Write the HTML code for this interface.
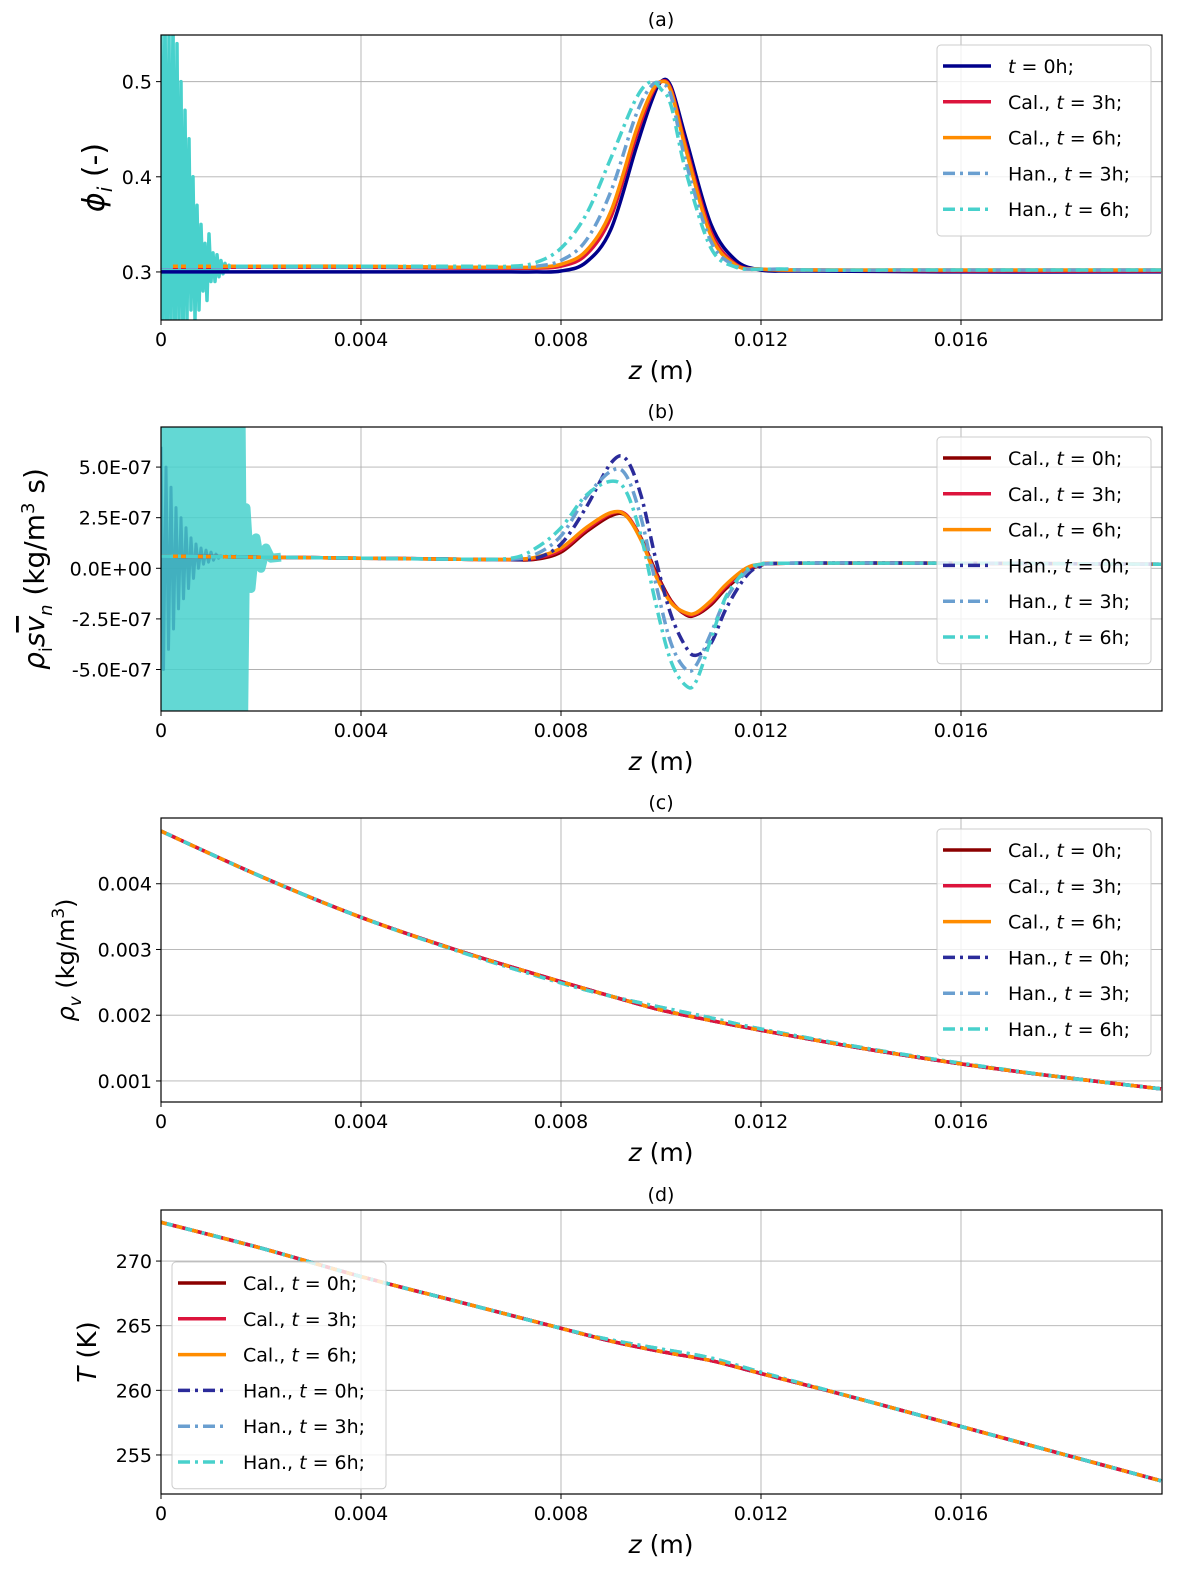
<!DOCTYPE html>
<html><head><meta charset="utf-8">
<style>
html,body{margin:0;padding:0;background:#fff;overflow:hidden;width:1188px;height:1587px;}
svg{display:block;}
svg text{font-family:"DejaVu Sans","Liberation Sans",sans-serif;fill:#000;}
</style></head>
<body>
<svg id="fig" width="1188" height="1587" viewBox="0 0 1188 1587" xmlns="http://www.w3.org/2000/svg"></svg>
<script>
// ---------- shared x data ----------
const xTicks = [0, 0.004, 0.008, 0.012, 0.016];
const xTickLabels = ["0", "0.004", "0.008", "0.012", "0.016"];

// ---------- panel (a) phi ----------
const zA = [0,0.001,0.002,0.004,0.006,0.007,0.0075,0.008,0.0085,0.009,0.0095,0.0098,0.010,0.0102,0.0105,0.011,0.0115,0.012,0.0125,0.013,0.016,0.02];
const phiT0   = [0.300,0.300,0.300,0.300,0.300,0.300,0.300,0.301,0.310,0.345,0.430,0.478,0.500,0.495,0.440,0.350,0.312,0.302,0.301,0.301,0.300,0.300];
const phiCal3 = [0.305,0.305,0.305,0.305,0.304,0.304,0.304,0.306,0.318,0.358,0.442,0.485,0.500,0.492,0.432,0.342,0.308,0.303,0.302,0.302,0.301,0.301];
const phiCal6 = [0.306,0.306,0.306,0.306,0.305,0.305,0.305,0.308,0.322,0.364,0.448,0.488,0.500,0.490,0.428,0.338,0.307,0.303,0.302,0.302,0.302,0.302];
const phiHan3 = [0.305,0.305,0.305,0.305,0.305,0.305,0.306,0.312,0.333,0.385,0.465,0.495,0.498,0.485,0.415,0.332,0.306,0.303,0.303,0.302,0.302,0.302];
const phiHan6 = [0.306,0.306,0.306,0.306,0.306,0.306,0.310,0.325,0.360,0.420,0.482,0.500,0.492,0.475,0.405,0.325,0.305,0.303,0.303,0.302,0.302,0.302];
const phiNoiseZ = [0,0.00004,0.00008,0.00012,0.00016,0.0002,0.00024,0.00028,0.00032,0.00036,0.0004,0.00044,0.00048,0.00052,0.00056,0.0006,0.00064,0.00068,0.00072,0.00076,0.0008,0.00084,0.00088,0.00092,0.00096,0.001,0.00104,0.00108,0.00112,0.00116,0.0012,0.00124,0.00128,0.00132,0.00136,0.0014,0.0015,0.0016];
const phiNoiseV = [0.56,0.22,0.58,0.20,0.55,0.23,0.57,0.21,0.54,0.24,0.50,0.22,0.47,0.25,0.44,0.26,0.40,0.25,0.37,0.26,0.35,0.28,0.33,0.27,0.34,0.29,0.32,0.29,0.318,0.295,0.312,0.298,0.309,0.301,0.307,0.305,0.306,0.306];

// ---------- panel (b) flux ----------
const zB = [0,0.002,0.004,0.006,0.007,0.0075,0.008,0.0085,0.009,0.0093,0.0096,0.0099,0.0102,0.0105,0.0107,0.011,0.0113,0.0117,0.012,0.0125,0.016,0.02];
const fCal0 = [6e-8,5.5e-8,5e-8,4.5e-8,4.2e-8,4.5e-8,8e-8,1.8e-7,2.6e-7,2.6e-7,1.5e-7,-2e-8,-1.6e-7,-2.3e-7,-2.3e-7,-1.8e-7,-1e-7,-2e-8,1.5e-8,2.5e-8,2.5e-8,2e-8];
const fCal3 = [6e-8,5.5e-8,5e-8,4.5e-8,4.3e-8,5e-8,9e-8,1.9e-7,2.7e-7,2.65e-7,1.45e-7,-3e-8,-1.65e-7,-2.25e-7,-2.25e-7,-1.7e-7,-9e-8,-1e-8,1.8e-8,2.5e-8,2.5e-8,2e-8];
const fCal6 = [6e-8,5.5e-8,5e-8,4.5e-8,4.4e-8,5.5e-8,1e-7,2e-7,2.75e-7,2.6e-7,1.4e-7,-4e-8,-1.7e-7,-2.2e-7,-2.2e-7,-1.6e-7,-8e-8,0,2e-8,2.5e-8,2.5e-8,2e-8];
const fHan0 = [6e-8,5.5e-8,5e-8,4.5e-8,4.3e-8,5e-8,1.2e-7,3e-7,5.2e-7,5.4e-7,3.6e-7,4e-8,-2.3e-7,-3.9e-7,-4.3e-7,-3.7e-7,-2e-7,-4e-8,1e-8,2.5e-8,2.5e-8,2e-8];
const fHan3 = [6e-8,5.5e-8,5e-8,4.5e-8,4.5e-8,7e-8,1.6e-7,3.5e-7,4.8e-7,4.6e-7,2.5e-7,-8e-8,-3.7e-7,-5e-7,-4.8e-7,-3.2e-7,-1.5e-7,-2e-8,1.5e-8,2.5e-8,2.5e-8,2e-8];
const fHan6 = [6e-8,5.5e-8,5e-8,4.5e-8,5e-8,1e-7,2e-7,3.6e-7,4.3e-7,3.8e-7,1.6e-7,-1.8e-7,-4.6e-7,-5.8e-7,-5.6e-7,-3.5e-7,-1.4e-7,-1e-8,2e-8,2.5e-8,2.5e-8,2e-8];
const fNoiseZ = [0,0.00005,0.0001,0.00015,0.0002,0.00025,0.0003,0.00035,0.0004,0.00045,0.0005,0.00055,0.0006,0.00065,0.0007,0.00075,0.0008,0.00085,0.0009,0.00095,0.001,0.00105,0.0011,0.00115,0.0012,0.00125,0.0013,0.00135,0.0014,0.00145,0.0015,0.00155,0.0016,0.00165,0.0017,0.0018,0.0019,0.002,0.0021,0.0022,0.0024];
const fNoise6 = [8e-7,-8e-7,8e-7,-8e-7,8e-7,-8e-7,8e-7,-8e-7,8e-7,-8e-7,8e-7,-8e-7,8e-7,-8e-7,8e-7,-8e-7,8e-7,-8e-7,8e-7,-8e-7,8e-7,-8e-7,8e-7,-8e-7,8e-7,-8e-7,8e-7,-8e-7,8e-7,-8e-7,8e-7,-8e-7,8e-7,-8e-7,3e-7,-1e-7,1.5e-7,0,1e-7,5e-8,5.5e-8];
const fNoise0 = [6e-7,-5e-7,5e-7,-4e-7,4e-7,-3e-7,3e-7,-2e-7,2.5e-7,-1.5e-7,2e-7,-1e-7,1.5e-7,-5e-8,1.2e-7,0,1e-7,2e-8,9e-8,3e-8,8e-8,4e-8,7e-8,5e-8,6e-8,5.5e-8,6e-8,5.5e-8,6e-8,5.5e-8,6e-8,5.5e-8,5.5e-8,5.5e-8,5.5e-8,5.5e-8,5.5e-8,5.5e-8,5.5e-8,5.5e-8,5.5e-8];

// ---------- panel (c) rho_v ----------
const zC = [0,0.002,0.004,0.006,0.008,0.009,0.010,0.011,0.012,0.014,0.016,0.018,0.02];
const rvCal = [0.0048,0.00411,0.00349,0.00297,0.00251,0.00229,0.00208,0.00192,0.00177,0.00150,0.00126,0.00106,0.00088];
const rvHan = [0.0048,0.00411,0.00349,0.00296,0.00249,0.00229,0.00212,0.00196,0.00179,0.00151,0.00127,0.00106,0.00088];

// ---------- panel (d) T ----------
const zD = [0,0.002,0.004,0.006,0.008,0.009,0.010,0.011,0.012,0.014,0.016,0.018,0.02];
const tCal = [273.0,271.0,268.8,266.8,264.8,263.8,263.0,262.3,261.3,259.3,257.2,255.1,253.0];
const tHan = [273.0,271.0,268.8,266.8,264.8,263.9,263.2,262.5,261.4,259.3,257.2,255.1,253.0];

// ---------- rendering ----------
const NS = "http://www.w3.org/2000/svg";
const svg = document.getElementById("fig");
function mk(tag, attrs, parent){const e=document.createElementNS(NS,tag);for(const k in attrs)e.setAttribute(k,attrs[k]);(parent||svg).appendChild(e);return e;}
const X0=161,X1=1162,XMAX=0.02002;
function sx(v){return X0+(v/XMAX)*(X1-X0);}
function pathFor(xs,ys,sy){
  const p=xs.map((x,i)=>[sx(x),sy(ys[i])]);
  let d="M"+p[0][0].toFixed(1)+","+p[0][1].toFixed(1);
  for(let i=0;i<p.length-1;i++){
    const p0=p[i-1]||p[i],p1=p[i],p2=p[i+1],p3=p[i+2]||p2;
    const c1=[p1[0]+(p2[0]-p0[0])/6,p1[1]+(p2[1]-p0[1])/6];
    const c2=[p2[0]-(p3[0]-p1[0])/6,p2[1]-(p3[1]-p1[1])/6];
    d+=" C"+c1[0].toFixed(1)+","+c1[1].toFixed(1)+" "+c2[0].toFixed(1)+","+c2[1].toFixed(1)+" "+p2[0].toFixed(1)+","+p2[1].toFixed(1);
  }
  return d;
}
function polyFor(xs,ys,sy){return xs.map((x,i)=>(i?"L":"M")+sx(x).toFixed(1)+","+sy(ys[i]).toFixed(1)).join(" ");}

function panel(o){
  const g=mk("g",{});
  
  
  const sy=v=>o.top+(o.ymax-v)/(o.ymax-o.ymin)*(o.bot-o.top);
  const cid="clip"+o.id;
  const cp=mk("clipPath",{id:cid},g);mk("rect",{x:X0,y:o.top,width:X1-X0,height:o.bot-o.top},cp);
  xTicks.forEach((t,i)=>{
    const gl=mk("line",{x1:sx(t),x2:sx(t),y1:o.top,y2:o.bot,stroke:"#b0b0b0","stroke-width":0.9},g);
    
    
    mk("line",{x1:sx(t),x2:sx(t),y1:o.bot,y2:o.bot+5,stroke:"#000","stroke-width":1},g);
    const tl=mk("text",{x:sx(t),y:o.bot+26,"font-size":19,"text-anchor":"middle"},g);tl.textContent=xTickLabels[i];
    
    
  });
  o.yTicks.forEach((t,i)=>{
    const gl=mk("line",{x1:X0,x2:X1,y1:sy(t),y2:sy(t),stroke:"#b0b0b0","stroke-width":0.9},g);
    
    
    mk("line",{x1:X0-5,x2:X0,y1:sy(t),y2:sy(t),stroke:"#000","stroke-width":1},g);
    const tl=mk("text",{x:X0-9,y:sy(t)+7,"font-size":19,"text-anchor":"end"},g);tl.textContent=o.yTickLabels[i];
    
    
  });
  const sg=mk("g",{"clip-path":"url(#"+cid+")"},g);
  o.series.forEach(s=>{
    const p=mk("path",{d:s.poly?polyFor(s.x,s.y,sy):pathFor(s.x,s.y,sy),fill:"none",stroke:s.c,"stroke-width":s.w||3.5,"stroke-dasharray":s.dash||"none","stroke-linejoin":"round",opacity:s.op||1},sg);
    
    
  });
  mk("rect",{x:X0,y:o.top,width:X1-X0,height:o.bot-o.top,fill:"none",stroke:"#000","stroke-width":1.2},g);
  const tt=mk("text",{x:661,y:o.top-9,"font-size":19,"text-anchor":"middle"},g);tt.textContent=o.title;
  
  
  const xl=mk("text",{x:661,y:o.bot+59,"font-size":25,"text-anchor":"middle"},g);
  xl.innerHTML='<tspan font-style="italic">z</tspan> (m)';
  
  
  const yl=mk("text",{x:0,y:0,"font-size":o.ylSize||25,"text-anchor":"middle",transform:"translate("+o.ylX+","+((o.top+o.bot)/2)+") rotate(-90)"},g);
  yl.innerHTML=o.ylabel;
  
  
  const L=o.legend;
  const lb=mk("rect",{x:L.x,y:L.y,width:L.w,height:L.entries.length*35.8+12,fill:"#fff","fill-opacity":0.8,stroke:"#ccc",rx:4},g);
  
  
  L.entries.forEach((e,i)=>{
    const yy=L.y+21+i*35.8;
    const ll=mk("line",{x1:L.x+6,x2:L.x+54,y1:yy,y2:yy,stroke:e.c,"stroke-width":3.5,"stroke-dasharray":e.dash||"none"},g);
    
    
    const lt=mk("text",{x:L.x+71,y:yy+7,"font-size":19},g);
    lt.innerHTML=e.t;
    
    
  });
}
const NAVY="#00008b",DR="#8b0000",CR="#dc143c",OR="#ff8c00",H0="#2b2b9a",H3="#6a9fd0",H6="#48d1cc";
const DD="12,5,3,5";
const T=(a,h)=>a+', <tspan font-style="italic">t</tspan> = '+h+'h;';

panel({id:"a",name:"panel-a-phi",title:"(a)",top:35,bot:320,ymin:0.2495,ymax:0.549,
  yTicks:[0.3,0.4,0.5],yTickLabels:["0.3","0.4","0.5"],ylX:104,ylSize:30,
  ylabel:'<tspan font-style="italic">ϕ</tspan><tspan font-style="italic" font-size="20" dy="8">i</tspan><tspan dy="-8"> (-)</tspan>',
  series:[
    {name:"han-6h-noise",x:phiNoiseZ,y:phiNoiseV,c:H6,poly:true,w:3.5},
    {name:"phi-t0",x:zA,y:phiT0,c:NAVY},
    {name:"phi-cal-3h",x:zA,y:phiCal3,c:CR},
    {name:"phi-cal-6h",x:zA,y:phiCal6,c:OR},
    {name:"phi-han-3h",x:zA,y:phiHan3,c:H3,dash:DD},
    {name:"phi-han-6h",x:zA,y:phiHan6,c:H6,dash:DD}],
  legend:{x:937,y:45,w:214,entries:[
    {c:NAVY,t:'<tspan font-style="italic">t</tspan> = 0h;'},
    {c:CR,t:T("Cal.","3")},{c:OR,t:T("Cal.","6")},
    {c:H3,dash:DD,t:T("Han.","3")},{c:H6,dash:DD,t:T("Han.","6")}]}
});
panel({id:"b",name:"panel-b-flux",title:"(b)",top:427,bot:711,ymin:-7.05e-7,ymax:6.98e-7,
  yTicks:[5e-7,2.5e-7,0,-2.5e-7,-5e-7],yTickLabels:["5.0E-07","2.5E-07","0.0E+00","-2.5E-07","-5.0E-07"],ylX:44,ylSize:28,
  ylabel:'<tspan font-style="italic">ρ</tspan><tspan font-size="18" dy="8">i</tspan><tspan dy="-8" font-style="italic">s</tspan><tspan font-style="italic" text-decoration="overline">v</tspan><tspan font-style="italic" font-size="18" dy="8">n</tspan><tspan dy="-8"> (kg/m</tspan><tspan font-size="18" dy="-10">3</tspan><tspan dy="10"> s)</tspan>',
  series:[
    {name:"han-6h-noise",x:fNoiseZ,y:fNoise6,c:H6,poly:true,w:9,op:0.85},
    {name:"han-0h-noise",x:fNoiseZ,y:fNoise0,c:"#3aa6b9",poly:true,w:3,op:0.8},
    {name:"flux-cal-0h",x:zB,y:fCal0,c:DR},
    {name:"flux-cal-3h",x:zB,y:fCal3,c:CR},
    {name:"flux-cal-6h",x:zB,y:fCal6,c:OR},
    {name:"flux-han-0h",x:zB,y:fHan0,c:H0,dash:DD},
    {name:"flux-han-3h",x:zB,y:fHan3,c:H3,dash:DD},
    {name:"flux-han-6h",x:zB,y:fHan6,c:H6,dash:DD}],
  legend:{x:937,y:437,w:214,entries:[
    {c:DR,t:T("Cal.","0")},{c:CR,t:T("Cal.","3")},{c:OR,t:T("Cal.","6")},
    {c:H0,dash:DD,t:T("Han.","0")},{c:H3,dash:DD,t:T("Han.","3")},{c:H6,dash:DD,t:T("Han.","6")}]}
});
panel({id:"c",name:"panel-c-rhov",title:"(c)",top:818,bot:1102,ymin:0.00068,ymax:0.005,
  yTicks:[0.004,0.003,0.002,0.001],yTickLabels:["0.004","0.003","0.002","0.001"],ylX:74,ylSize:24,
  ylabel:'<tspan font-style="italic">ρ</tspan><tspan font-style="italic" font-size="17" dy="7">v</tspan><tspan dy="-7"> (kg/m</tspan><tspan font-size="17" dy="-10">3</tspan><tspan dy="10">)</tspan>',
  series:[
    {name:"rhov-cal-0h",x:zC,y:rvCal,c:DR},
    {name:"rhov-han-0h",x:zC,y:rvCal,c:H0,dash:DD},
    {name:"rhov-cal-3h",x:zC,y:rvCal,c:CR},
    {name:"rhov-han-3h",x:zC,y:rvHan,c:H3,dash:DD},
    {name:"rhov-han-6h",x:zC,y:rvHan,c:H6,dash:DD},
    {name:"rhov-cal-6h",x:zC,y:rvCal,c:OR,dash:"6,10"}],
  legend:{x:937,y:829,w:214,entries:[
    {c:DR,t:T("Cal.","0")},{c:CR,t:T("Cal.","3")},{c:OR,t:T("Cal.","6")},
    {c:H0,dash:DD,t:T("Han.","0")},{c:H3,dash:DD,t:T("Han.","3")},{c:H6,dash:DD,t:T("Han.","6")}]}
});
panel({id:"d",name:"panel-d-temp",title:"(d)",top:1210,bot:1494,ymin:251.98,ymax:273.95,
  yTicks:[270,265,260,255],yTickLabels:["270","265","260","255"],ylX:96,ylSize:26,
  ylabel:'<tspan font-style="italic">T</tspan> (K)',
  series:[
    {name:"temp-cal-0h",x:zD,y:tCal,c:DR},
    {name:"temp-han-0h",x:zD,y:tCal,c:H0,dash:DD},
    {name:"temp-cal-3h",x:zD,y:tCal,c:CR},
    {name:"temp-han-3h",x:zD,y:tHan,c:H3,dash:DD},
    {name:"temp-han-6h",x:zD,y:tHan,c:H6,dash:DD},
    {name:"temp-cal-6h",x:zD,y:tCal,c:OR,dash:"6,10"}],
  legend:{x:172,y:1262,w:214,entries:[
    {c:DR,t:T("Cal.","0")},{c:CR,t:T("Cal.","3")},{c:OR,t:T("Cal.","6")},
    {c:H0,dash:DD,t:T("Han.","0")},{c:H3,dash:DD,t:T("Han.","3")},{c:H6,dash:DD,t:T("Han.","6")}]}
});
</script>
</body></html>
